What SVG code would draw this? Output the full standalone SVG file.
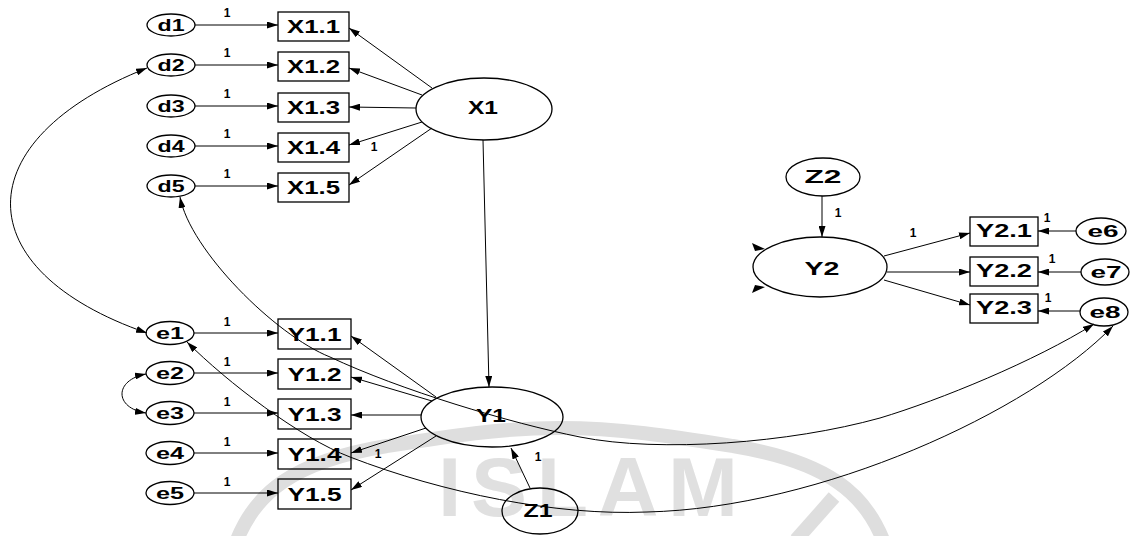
<svg xmlns="http://www.w3.org/2000/svg" width="1133" height="536" viewBox="0 0 1133 536">
  <style>
    .nd { fill: none; stroke: #000; stroke-width: 1.3; }
    .lb { font-family: "Liberation Sans", Arial, sans-serif; font-weight: bold; text-anchor: middle; fill: #000; }
    .ob { font-size: 16px; }
    .bx { font-size: 18px; }
    .lt { font-size: 18px; }
    .one { font-family: "Liberation Sans", Arial, sans-serif; font-weight: bold; font-size: 12px; fill: #000; text-anchor: middle; }
    .ar { fill: none; stroke: #000; stroke-width: 1; marker-end: url(#ah); }
    .cv { fill: none; stroke: #000; stroke-width: 1; marker-start: url(#ah); marker-end: url(#ah); }
    .wm { fill: none; stroke: #dedede; stroke-width: 14; }
  </style>
  <defs>
    <marker id="ah" viewBox="0 0 11 7" refX="11" refY="3.5" markerWidth="11" markerHeight="7" orient="auto-start-reverse" markerUnits="userSpaceOnUse">
      <path d="M0,0 L11,3.5 L0,7 z" fill="#000"/>
    </marker>
  </defs>
  <rect width="1133" height="536" fill="#fff"/>

  <!-- background seal -->
  <g id="seal">
    <path class="wm" d="M 237 540 C 255 495, 290 462, 387 446 C 450 436, 500 428, 560 428 C 620 428, 670 436, 733 446 C 830 462, 865 495, 883 540"/>
    <path class="wm" d="M 834 497 L 796 540"/>
    <text x="438" y="516" font-family="Liberation Sans, Arial, sans-serif" font-weight="bold" font-size="84" fill="#e0e0e0" textLength="300" lengthAdjust="spacing">ISLAM</text>
  </g>

  <!-- exogenous block -->
  <g id="d1"><ellipse class="nd" cx="171" cy="25" rx="24" ry="11"/><text class="lb ob" x="171" y="31" textLength="27" lengthAdjust="spacingAndGlyphs">d1</text></g>
  <g id="d2"><ellipse class="nd" cx="171" cy="65" rx="24" ry="11"/><text class="lb ob" x="171" y="71" textLength="27" lengthAdjust="spacingAndGlyphs">d2</text></g>
  <g id="d3"><ellipse class="nd" cx="171" cy="106" rx="24" ry="11"/><text class="lb ob" x="171" y="112" textLength="27" lengthAdjust="spacingAndGlyphs">d3</text></g>
  <g id="d4"><ellipse class="nd" cx="171" cy="146" rx="24" ry="11"/><text class="lb ob" x="171" y="152" textLength="27" lengthAdjust="spacingAndGlyphs">d4</text></g>
  <g id="d5"><ellipse class="nd" cx="171" cy="186" rx="24" ry="11"/><text class="lb ob" x="171" y="192" textLength="27" lengthAdjust="spacingAndGlyphs">d5</text></g>

  <g id="X1_1"><rect class="nd" x="278" y="12" width="71" height="29"/><text class="lb bx" x="313.5" y="33" textLength="53" lengthAdjust="spacingAndGlyphs">X1.1</text></g>
  <g id="X1_2"><rect class="nd" x="278" y="52" width="71" height="29"/><text class="lb bx" x="313.5" y="73" textLength="53" lengthAdjust="spacingAndGlyphs">X1.2</text></g>
  <g id="X1_3"><rect class="nd" x="278" y="93" width="71" height="29"/><text class="lb bx" x="313.5" y="114" textLength="53" lengthAdjust="spacingAndGlyphs">X1.3</text></g>
  <g id="X1_4"><rect class="nd" x="278" y="133" width="71" height="29"/><text class="lb bx" x="313.5" y="154" textLength="53" lengthAdjust="spacingAndGlyphs">X1.4</text></g>
  <g id="X1_5"><rect class="nd" x="278" y="173" width="71" height="29"/><text class="lb bx" x="313.5" y="194" textLength="53" lengthAdjust="spacingAndGlyphs">X1.5</text></g>

  <g id="X1"><ellipse class="nd" cx="484" cy="109" rx="68" ry="31"/><text class="lb lt" x="483" y="114" textLength="30" lengthAdjust="spacingAndGlyphs">X1</text></g>

  <!-- first endogenous block -->
  <g id="e1"><ellipse class="nd" cx="170" cy="333" rx="24" ry="11.5"/><text class="lb ob" x="170" y="338.5" textLength="28" lengthAdjust="spacingAndGlyphs">e1</text></g>
  <g id="e2"><ellipse class="nd" cx="170" cy="373" rx="24" ry="11.5"/><text class="lb ob" x="170" y="378.5" textLength="28" lengthAdjust="spacingAndGlyphs">e2</text></g>
  <g id="e3"><ellipse class="nd" cx="170" cy="413" rx="24" ry="11.5"/><text class="lb ob" x="170" y="418.5" textLength="28" lengthAdjust="spacingAndGlyphs">e3</text></g>
  <g id="e4"><ellipse class="nd" cx="170" cy="453" rx="24" ry="11.5"/><text class="lb ob" x="170" y="458.5" textLength="28" lengthAdjust="spacingAndGlyphs">e4</text></g>
  <g id="e5"><ellipse class="nd" cx="170" cy="493" rx="24" ry="11.5"/><text class="lb ob" x="170" y="498.5" textLength="28" lengthAdjust="spacingAndGlyphs">e5</text></g>

  <g id="Y1_1"><rect class="nd" x="278" y="319" width="73" height="30"/><text class="lb bx" x="314.5" y="341" textLength="54" lengthAdjust="spacingAndGlyphs">Y1.1</text></g>
  <g id="Y1_2"><rect class="nd" x="278" y="359" width="73" height="30"/><text class="lb bx" x="314.5" y="381" textLength="54" lengthAdjust="spacingAndGlyphs">Y1.2</text></g>
  <g id="Y1_3"><rect class="nd" x="278" y="399" width="73" height="30"/><text class="lb bx" x="314.5" y="421" textLength="54" lengthAdjust="spacingAndGlyphs">Y1.3</text></g>
  <g id="Y1_4"><rect class="nd" x="278" y="439" width="73" height="30"/><text class="lb bx" x="314.5" y="461" textLength="54" lengthAdjust="spacingAndGlyphs">Y1.4</text></g>
  <g id="Y1_5"><rect class="nd" x="278" y="479" width="73" height="30"/><text class="lb bx" x="314.5" y="501" textLength="54" lengthAdjust="spacingAndGlyphs">Y1.5</text></g>

  <g id="Y1"><ellipse class="nd" cx="492" cy="417" rx="71" ry="30"/><text class="lb lt" x="491" y="422" textLength="30" lengthAdjust="spacingAndGlyphs">Y1</text></g>
  <g id="Z1"><ellipse class="nd" cx="540" cy="511" rx="38" ry="23"/><text class="lb lt" x="538" y="517" textLength="29" lengthAdjust="spacingAndGlyphs">Z1</text></g>

  <!-- second endogenous block -->
  <g id="Z2"><ellipse class="nd" cx="823" cy="177" rx="37" ry="19"/><text class="lb lt" x="823" y="183" textLength="37" lengthAdjust="spacingAndGlyphs">Z2</text></g>
  <g id="Y2">
    <ellipse class="nd" cx="820" cy="267" rx="67" ry="30"/>
    <text class="lb lt" x="822" y="275" textLength="35" lengthAdjust="spacingAndGlyphs">Y2</text>
    <path d="M765,249 L752,243 L755,251 z" fill="#000"/>
    <path d="M765,287 L752,293 L755,285 z" fill="#000"/>
  </g>
  <g id="Y2_1"><rect class="nd" x="970" y="217" width="68" height="29"/><text class="lb bx" x="1004" y="237" textLength="56" lengthAdjust="spacingAndGlyphs">Y2.1</text></g>
  <g id="Y2_2"><rect class="nd" x="970" y="257" width="68" height="29"/><text class="lb bx" x="1004" y="277" textLength="56" lengthAdjust="spacingAndGlyphs">Y2.2</text></g>
  <g id="Y2_3"><rect class="nd" x="970" y="294" width="68" height="29"/><text class="lb bx" x="1004" y="314" textLength="56" lengthAdjust="spacingAndGlyphs">Y2.3</text></g>
  <g id="e6"><ellipse class="nd" cx="1101" cy="231" rx="25" ry="13"/><text class="lb ob" x="1103" y="236.5" textLength="31" lengthAdjust="spacingAndGlyphs">e6</text></g>
  <g id="e7"><ellipse class="nd" cx="1105" cy="272" rx="24" ry="13"/><text class="lb ob" x="1106" y="277.5" textLength="31" lengthAdjust="spacingAndGlyphs">e7</text></g>
  <g id="e8"><ellipse class="nd" cx="1104" cy="312" rx="24" ry="14"/><text class="lb ob" x="1105" y="317.5" textLength="31" lengthAdjust="spacingAndGlyphs">e8</text></g>

  <g id="connectors">
    <!-- residuals into indicators -->
    <path class="ar" d="M195,25 H278"/>
    <path class="ar" d="M195,65 H278"/>
    <path class="ar" d="M195,106 H278"/>
    <path class="ar" d="M195,146 H278"/>
    <path class="ar" d="M195,186 H278"/>
    <path class="ar" d="M194,333 H278"/>
    <path class="ar" d="M194,373 H278"/>
    <path class="ar" d="M194,413 H278"/>
    <path class="ar" d="M194,453 H278"/>
    <path class="ar" d="M194,493 H278"/>
    <path class="ar" d="M1076,231 H1038"/>
    <path class="ar" d="M1081,272 H1038"/>
    <path class="ar" d="M1080,311 H1038"/>

    <!-- loadings -->
    <path class="ar" d="M432,88 L349,28"/>
    <path class="ar" d="M422,95 L349,68"/>
    <path class="ar" d="M416,108 L349,107"/>
    <path class="ar" d="M422,122 L349,145"/>
    <path class="ar" d="M432,128 L349,185"/>
    <path class="ar" d="M436,397 L351,336"/>
    <path class="ar" d="M432,401 L351,377"/>
    <path class="ar" d="M421,415 L351,415"/>
    <path class="ar" d="M426,428 L351,453"/>
    <path class="ar" d="M436,436 L351,490"/>
    <path class="ar" d="M884,256 L970,233"/>
    <path class="ar" d="M887,272 L970,272"/>
    <path class="ar" d="M884,280 L970,305"/>

    <!-- structural paths -->
    <path class="ar" d="M483,140 L489,387"/>
    <path class="ar" d="M530,488 L511,448"/>
    <path class="ar" d="M822,196 L822,237"/>

    <!-- covariances -->
    <path class="cv" d="M147,68 C-35,140 -35,270 147,333"/>
    <path class="cv" d="M146,374 C114,380 114,408 146,413"/>
    <path class="cv" d="M180,197 C190,250 275,335 330,357 C400,390 510,423 580,437 C660,453 790,443 880,418 C940,400 1035,361 1094,324"/>
    <path class="cv" d="M187,342 C227,382 300,438 350,457 C443,493 557,516 647,512 C820,508 1030,412 1113,326"/>

    <!-- fixed coefficients -->
    <text class="one" x="227" y="17">1</text>
    <text class="one" x="227" y="57">1</text>
    <text class="one" x="227" y="98">1</text>
    <text class="one" x="227" y="138">1</text>
    <text class="one" x="227" y="178">1</text>
    <text class="one" x="374" y="151">1</text>
    <text class="one" x="227" y="326">1</text>
    <text class="one" x="227" y="366">1</text>
    <text class="one" x="227" y="406">1</text>
    <text class="one" x="227" y="446">1</text>
    <text class="one" x="227" y="486">1</text>
    <text class="one" x="378" y="458">1</text>
    <text class="one" x="538" y="461">1</text>
    <text class="one" x="838" y="217">1</text>
    <text class="one" x="913" y="237">1</text>
    <text class="one" x="1047" y="222">1</text>
    <text class="one" x="1052" y="263">1</text>
    <text class="one" x="1048" y="302">1</text>
  </g>
</svg>
